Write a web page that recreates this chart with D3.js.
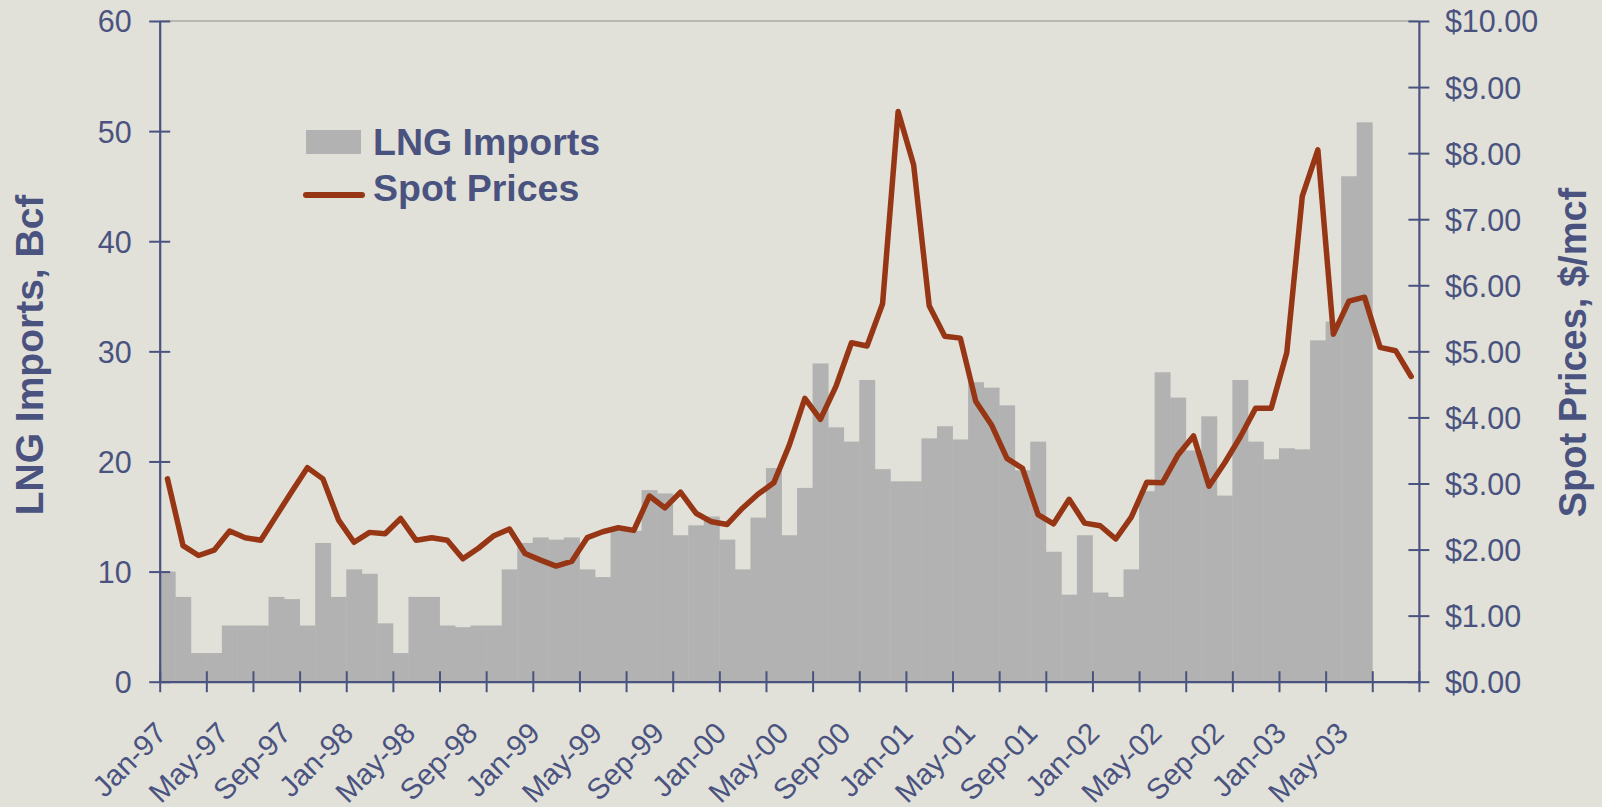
<!DOCTYPE html>
<html>
<head>
<meta charset="utf-8">
<script src="https://cdn.jsdelivr.net/npm/d3@7"></script>
<style>
  html, body { margin: 0; padding: 0; background: #E1E1D9; }
  svg { display: block; }
  text { font-family: "Liberation Sans", Arial, sans-serif; fill: #4A5380; }
</style>
</head>
<body>
<svg id="chart" width="1602" height="807"></svg>
<script>
// ---- Data ----
const months = [
  "Jan-97","Feb-97","Mar-97","Apr-97","May-97","Jun-97","Jul-97","Aug-97","Sep-97","Oct-97","Nov-97","Dec-97",
  "Jan-98","Feb-98","Mar-98","Apr-98","May-98","Jun-98","Jul-98","Aug-98","Sep-98","Oct-98","Nov-98","Dec-98",
  "Jan-99","Feb-99","Mar-99","Apr-99","May-99","Jun-99","Jul-99","Aug-99","Sep-99","Oct-99","Nov-99","Dec-99",
  "Jan-00","Feb-00","Mar-00","Apr-00","May-00","Jun-00","Jul-00","Aug-00","Sep-00","Oct-00","Nov-00","Dec-00",
  "Jan-01","Feb-01","Mar-01","Apr-01","May-01","Jun-01","Jul-01","Aug-01","Sep-01","Oct-01","Nov-01","Dec-01",
  "Jan-02","Feb-02","Mar-02","Apr-02","May-02","Jun-02","Jul-02","Aug-02","Sep-02","Oct-02","Nov-02","Dec-02",
  "Jan-03","Feb-03","Mar-03","Apr-03","May-03","Jun-03","Jul-03","Aug-03","Sep-03"
];
// LNG imports, Bcf (null = no bar)
const lngImports = [
  10.0, 7.7, 2.6, 2.6, 5.1, 5.1, 5.1, 7.7, 7.5, 5.1, 12.6, 7.7,
  10.2, 9.8, 5.3, 2.6, 7.7, 7.7, 5.1, 4.95, 5.1, 5.1, 10.2, 12.6,
  13.1, 12.9, 13.1, 10.2, 9.5, 13.7, 13.7, 17.4, 17.1, 13.3, 14.2, 15.0,
  12.9, 10.2, 14.9, 19.4, 13.3, 17.6, 28.9, 23.1, 21.8, 27.4, 19.3, 18.2,
  18.2, 22.1, 23.2, 22.0, 27.2, 26.7, 25.1, 19.2, 21.8, 11.8, 7.9, 13.3,
  8.1, 7.7, 10.2, 17.3, 28.1, 25.8, 21.0, 24.1, 16.9, 27.4, 21.8, 20.2,
  21.2, 21.1, 31.0, 32.7, 45.9, 50.8, null, null, null
];
// Spot prices, $/mcf
const spotPrices = [
  3.07, 2.06, 1.91, 1.99, 2.28, 2.18, 2.14, 2.51, 2.88, 3.24, 3.07, 2.45,
  2.11, 2.26, 2.24, 2.47, 2.14, 2.18, 2.14, 1.86, 2.02, 2.21, 2.31, 1.94,
  1.84, 1.75, 1.82, 2.18, 2.27, 2.33, 2.29, 2.81, 2.63, 2.87, 2.55, 2.42,
  2.38, 2.63, 2.84, 3.01, 3.58, 4.29, 3.97, 4.47, 5.13, 5.08, 5.72, 8.63,
  7.82, 5.69, 5.23, 5.20, 4.24, 3.89, 3.38, 3.23, 2.53, 2.39, 2.76, 2.40,
  2.36, 2.16, 2.49, 3.02, 3.01, 3.43, 3.72, 2.96, 3.31, 3.70, 4.14, 4.14,
  4.98, 7.35, 8.05, 5.26, 5.76, 5.82, 5.06, 5.01, 4.62
];
const xTickLabels = ["Jan-97","May-97","Sep-97","Jan-98","May-98","Sep-98","Jan-99","May-99","Sep-99",
  "Jan-00","May-00","Sep-00","Jan-01","May-01","Sep-01","Jan-02","May-02","Sep-02","Jan-03","May-03"];
const leftTicks = [0, 10, 20, 30, 40, 50, 60];
const rightTicks = [0, 1, 2, 3, 4, 5, 6, 7, 8, 9, 10];
const seriesNames = ["LNG Imports", "Spot Prices"];
const axisTitles = ["LNG Imports, Bcf", "Spot Prices, $/mcf"];

// ---- Layout ----
const C = { axis: "#4A5380", bar: "#B2B2B2", line: "#963614", border: "#8E8E8E" };
const L = 159.7, R = 1418.9, T = 21, B = 681.7;
const svg = d3.select("#chart");

const x = d3.scaleBand().domain(d3.range(months.length)).range([L, R]).padding(0);
const xLin = d3.scaleLinear().domain([0, months.length]).range([L, R]);
const yL = d3.scaleLinear().domain([0, 60]).range([B, T]);
const yR = d3.scaleLinear().domain([0, 10]).range([B, T]);

// top border
svg.append("line").attr("x1", L).attr("x2", R).attr("y1", T).attr("y2", T)
  .attr("stroke", C.border).attr("stroke-width", 1.2);

// bars
svg.append("g").selectAll("rect")
  .data(lngImports.map((v, i) => ({ v, i })).filter(d => d.v !== null))
  .join("rect")
  .attr("x", d => x(d.i))
  .attr("width", x.bandwidth() + 0.4)
  .attr("y", d => yL(d.v))
  .attr("height", d => yL(0) - yL(d.v))
  .attr("fill", C.bar);

// line
const line = d3.line().x((d, i) => x(i) + x.bandwidth() / 2).y(d => yR(d));
svg.append("path").datum(spotPrices).attr("d", line)
  .attr("fill", "none").attr("stroke", C.line).attr("stroke-width", 5.5)
  .attr("stroke-linejoin", "round").attr("stroke-linecap", "round");

// left axis
const gL = svg.append("g").attr("transform", `translate(${L},0)`)
  .call(d3.axisLeft(yL).tickValues(leftTicks).tickSize(0).tickPadding(0).tickFormat(d3.format("d")));
gL.select(".domain").attr("stroke", C.axis).attr("stroke-width", 2.2);
gL.selectAll(".tick line").attr("x1", -10.5).attr("x2", 10.5).attr("stroke", C.axis).attr("stroke-width", 2);
gL.selectAll(".tick text").attr("x", -28).attr("dy", "0.36em").attr("text-anchor", "end")
  .style("font-size", "30.5px").style("font-family", "'Liberation Sans', Arial, sans-serif").attr("fill", C.axis);

// right axis
const gR = svg.append("g").attr("transform", `translate(${R},0)`)
  .call(d3.axisRight(yR).tickValues(rightTicks).tickSize(0).tickPadding(0).tickFormat(d => "$" + d3.format(".2f")(d)));
gR.select(".domain").attr("stroke", C.axis).attr("stroke-width", 2.2);
gR.selectAll(".tick line").attr("x1", -10.5).attr("x2", 10.5).attr("stroke", C.axis).attr("stroke-width", 2);
gR.selectAll(".tick text").attr("x", 26).attr("dy", "0.36em").attr("text-anchor", "start")
  .style("font-size", "30.5px").style("font-family", "'Liberation Sans', Arial, sans-serif").attr("fill", C.axis);

// bottom axis (ticks every 3 months at category boundaries)
const gB = svg.append("g").attr("transform", `translate(0,${B})`)
  .call(d3.axisBottom(xLin).tickValues(d3.range(0, months.length + 1, 3)).tickSize(0).tickFormat(""));
gB.select(".domain").attr("stroke", C.axis).attr("stroke-width", 2.2);
gB.selectAll(".tick line").attr("y1", -10.5).attr("y2", 10.5).attr("stroke", C.axis).attr("stroke-width", 2);

// category labels
svg.append("g").selectAll("text")
  .data(xTickLabels)
  .join("text")
  .attr("transform", d => `translate(${x(months.indexOf(d)) + x.bandwidth() / 2 + 1},735) rotate(-45)`)
  .attr("text-anchor", "end")
  .style("font-size", "29.5px")
  .text(d => d);

// axis titles
svg.append("text").attr("transform", "translate(43,355) rotate(-90)")
  .attr("text-anchor", "middle").style("font-size", "39px").style("font-weight", "bold")
  .text(axisTitles[0]);
svg.append("text").attr("transform", "translate(1586,352.5) rotate(-90)")
  .attr("text-anchor", "middle").style("font-size", "38px").style("font-weight", "bold")
  .text(axisTitles[1]);

// legend
const lg = svg.append("g");
lg.append("rect").attr("x", 306).attr("y", 130).attr("width", 55).attr("height", 24).attr("fill", C.bar);
lg.append("line").attr("x1", 306).attr("x2", 362).attr("y1", 195).attr("y2", 195)
  .attr("stroke", C.line).attr("stroke-width", 6).attr("stroke-linecap", "round");
lg.append("text").attr("x", 373).attr("y", 154.5).style("font-size", "37.5px").style("font-weight", "bold").text(seriesNames[0]);
lg.append("text").attr("x", 373).attr("y", 200.5).style("font-size", "37.5px").style("font-weight", "bold").text(seriesNames[1]);
</script>
</body>
</html>
